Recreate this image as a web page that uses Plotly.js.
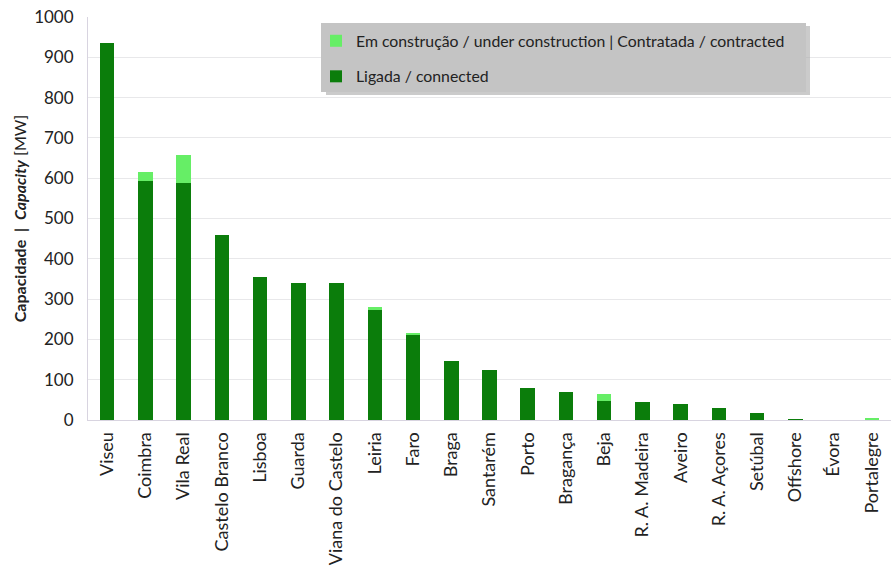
<!DOCTYPE html>
<html>
<head>
<meta charset="utf-8">
<script src="https://cdn.plot.ly/plotly-3.0.1.min.js"></script>
<style>html,body{margin:0;padding:0;background:#fff;}#chart{width:893px;height:568px;}</style>
</head>
<body>
<div id="chart"></div>
<script>
const districts = ["Viseu","Coimbra","Vila Real","Castelo Branco","Lisboa","Guarda","Viana do Castelo","Leiria","Faro","Braga","Santarém","Porto","Bragança","Beja","R. A. Madeira","Aveiro","R. A. Açores","Setúbal","Offshore","Évora","Portalegre"];
const connected = [935, 593, 589, 459, 355, 340, 340, 273, 211, 146, 124, 79, 70, 48, 44, 40, 31, 17, 2, 0, 1];
const underConstruction = [0, 23, 69, 0, 0, 0, 0, 7, 4, 0, 0, 0, 0, 16, 0, 0, 0, 0, 0, 0, 5];
const yTicks = [0,100,200,300,400,500,600,700,800,900,1000];

const traces = [
  {type:'bar', x:districts, y:connected, name:'Ligada / connected', legendgroup:'a', legendrank:2,
   marker:{color:'#0b7d0b'}},
  {type:'bar', x:districts, y:underConstruction, name:'Em construção / under construction | Contratada / contracted', legendgroup:'b', legendrank:1,
   marker:{color:'#66ee66'}}
];

const layout = {
  width:893, height:568,
  margin:{l:88, r:2, t:17, b:148},
  paper_bgcolor:'#ffffff', plot_bgcolor:'#ffffff',
  barmode:'stack', bargap:0.62,
  font:{family:'Lato, "Open Sans", sans-serif', color:'#222', size:16},
  xaxis:{tickangle:-90, tickfont:{size:18, color:'#222'}, showline:true, linecolor:'#d8d4e0', linewidth:1,
         ticks:'', showgrid:false, automargin:false, ticklabelstandoff:4},
  yaxis:{range:[0,1000], tickvals:yTicks, ticktext:yTicks.map(String), tickfont:{size:17, color:'#222'},
         gridcolor:'#e8e8ea', gridwidth:1, showline:true, linecolor:'#d8d4e0', zeroline:false, ticks:'', ticklen:0,
         automargin:false, ticklabelstandoff:10,
         title:{text:'<b>Capacidade  |  <i>Capacity</i></b> [MW]', font:{size:16, color:'#222'}, standoff:3}},
  shapes:[
    {type:'rect', xref:'paper', yref:'paper', x0:(323-88+3)/803, x1:(807-88+3)/803, y0:1-(95-17)/403, y1:1-(26-17)/403,
     fillcolor:'#a8a8a8', line:{width:0}, layer:'above', opacity:0.6},
    {type:'rect', xref:'paper', yref:'paper', x0:(321-88)/803, x1:(806-88)/803, y0:1-(92-17)/403, y1:1-(23-17)/403,
     fillcolor:'#c4c4c4', line:{width:0}, layer:'above'}
  ],
  legend:{x:(316-88)/803, y:1-(24-17)/403, xanchor:'left', yanchor:'top', bgcolor:'rgba(0,0,0,0)',
          traceorder:'grouped', tracegroupgap:12, font:{size:15.8, color:'#222'}, itemwidth:30},
  showlegend:true
};

Plotly.newPlot('chart', traces, layout, {displayModeBar:false, staticPlot:true});
</script>
</body>
</html>
